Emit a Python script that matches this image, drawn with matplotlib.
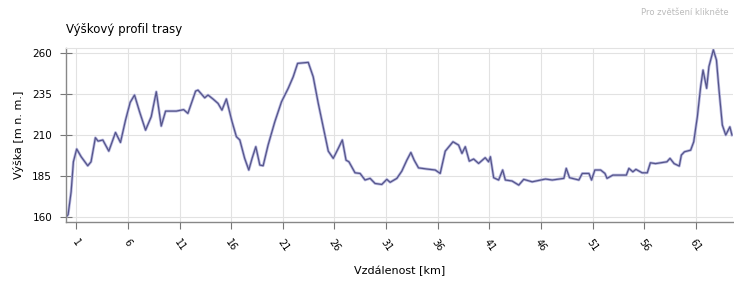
import matplotlib
matplotlib.use("Agg")
import matplotlib.pyplot as plt

# === Data ===
km = [0, 0.2, 0.49, 0.71, 1.03, 1.46, 2.1, 2.42, 2.84, 3.1, 3.56, 4.14, 4.79, 5.27, 5.76,
      6.21, 6.63, 7.12, 7.7, 8.25, 8.74, 9.22, 9.64, 10.68, 11.39, 11.8, 12.55, 12.78, 13.43,
      13.75, 14.23, 14.72, 15.1, 15.53, 16.08, 16.5, 16.83, 17.3, 17.7, 18.02, 18.38, 18.77,
      19.09, 19.57, 20.22, 20.87, 21.52, 22.0, 22.43, 23.46, 23.94, 24.43, 24.91, 25.4, 25.88,
      26.37, 26.76, 27.12, 27.4, 27.99, 28.48, 28.96, 29.45, 29.93, 30.58, 31.07, 31.39, 32.04,
      32.52, 33.01, 33.4, 33.72, 34.14, 34.95, 35.76, 36.24, 36.73, 37.48, 38.02, 38.35, 38.67,
      39.06, 39.48, 39.96, 40.6, 40.93, 41.1, 41.42, 41.9, 42.29, 42.55, 43.2, 43.85, 44.33,
      45.15, 46.44, 47.09, 48.22, 48.45, 48.77, 49.67, 50.0, 50.65, 50.9, 51.22, 51.78, 52.2,
      52.4, 52.97, 54.27, 54.52, 54.9, 55.2, 55.8, 56.3, 56.6, 57.1, 58.2, 58.5, 58.9, 59.4,
      59.6, 59.9, 60.5, 60.8, 61.15, 61.47, 61.7, 62.05, 62.27, 62.7, 63.0, 63.25, 63.57, 63.9,
      64.3, 64.5]
elev = [160, 161.5, 175.4, 193.7, 201.5, 196.8, 191.3, 193.7, 208.4, 206.3, 207, 200.2, 211.6,
        205.5, 219.1, 229.9, 234.4, 224.2, 213, 221.2, 236.4, 215.5, 224.6, 224.6, 225.5, 223.2,
        236.8, 237.4, 232.7, 234.4, 232, 229.3, 225.2, 232, 218.1, 209, 207, 195.8, 188.7, 195.8,
        202.9, 191.7, 191.3, 203.9, 218.1, 230.3, 238.5, 245.5, 253.7, 254.3, 245.5, 229.3, 215,
        200.2, 195.8, 201.9, 207, 194.7, 193.7, 187, 186.6, 182.6, 183.6, 180.5, 179.9, 183,
        181.2, 183.6, 188, 194.7, 199.4, 194.7, 190, 189.3, 188.7, 186.6, 200.2, 205.9, 203.9,
        198.8, 202.9, 194.1, 195.4, 192.7, 196.2, 193.7, 196.8, 184, 182.6, 188.7, 182.6, 182,
        179.5, 183, 181.5, 183.2, 182.6, 183.6, 189.7, 184, 182.6, 186.6, 186.6, 182.6, 188.7,
        188.7, 186.6, 183.6, 185.6, 185.6, 189.7, 187.6, 189.1, 187, 187, 193.1, 192.6, 193.7,
        195.8, 192.6, 191.1, 197.8, 199.8, 200.8, 205.9, 221.2, 239.5, 249.6, 238.5, 251.7, 262,
        255.7, 237.4, 216.1, 210, 215, 210]

x_ticks = [1, 6, 11, 16, 21, 26, 31, 36, 41, 46, 51, 56, 61]
y_ticks = [160, 185, 210, 235, 260]

# === Plot ===
fig = plt.figure(figsize=(7.34, 2.83), dpi=100)
ax = fig.add_axes([0.09, 0.2155, 0.9086, 0.6145])

# light halo + thin dark line, like the original rendering
ax.plot(km, elev, color="#b8b8e0", linewidth=2.0, solid_joinstyle="round")
ax.plot(km, elev, color="#55558a", linewidth=0.9)

ax.set_xlim(0, 64.6)
ax.set_ylim(157, 263)
ax.set_xticks(x_ticks)
ax.set_yticks(y_ticks)
ax.set_xticklabels([str(t) for t in x_ticks], rotation=-55, ha="center", fontsize=7)
ax.tick_params(axis="y", direction="inout", length=8, width=0.8, color="#777777",
               labelsize=7.5, pad=6)
ax.tick_params(axis="x", direction="out", length=5, width=0.8, color="#777777", pad=6)

ax.grid(True, color="#e2e2e2", linewidth=0.8)
ax.set_axisbelow(True)
for side in ["left", "bottom"]:
    ax.spines[side].set_color("#888888")
    ax.spines[side].set_linewidth(1.0)
ax.spines["top"].set_color("#e2e2e2")
ax.spines["right"].set_visible(False)

ax.set_xlabel("Vzdálenost [km]", fontsize=8, labelpad=9)
ax.set_ylabel("Výška [m n. m.]", fontsize=8, labelpad=6)

fig.text(0.09, 0.895, "Výškový profil trasy", fontsize=8.5, ha="left", va="center")
fig.text(0.992, 0.955, "Pro zvětšení klikněte", fontsize=6, color="#bbbbbb",
         ha="right", va="center")

fig.savefig("out.png", dpi=100)
